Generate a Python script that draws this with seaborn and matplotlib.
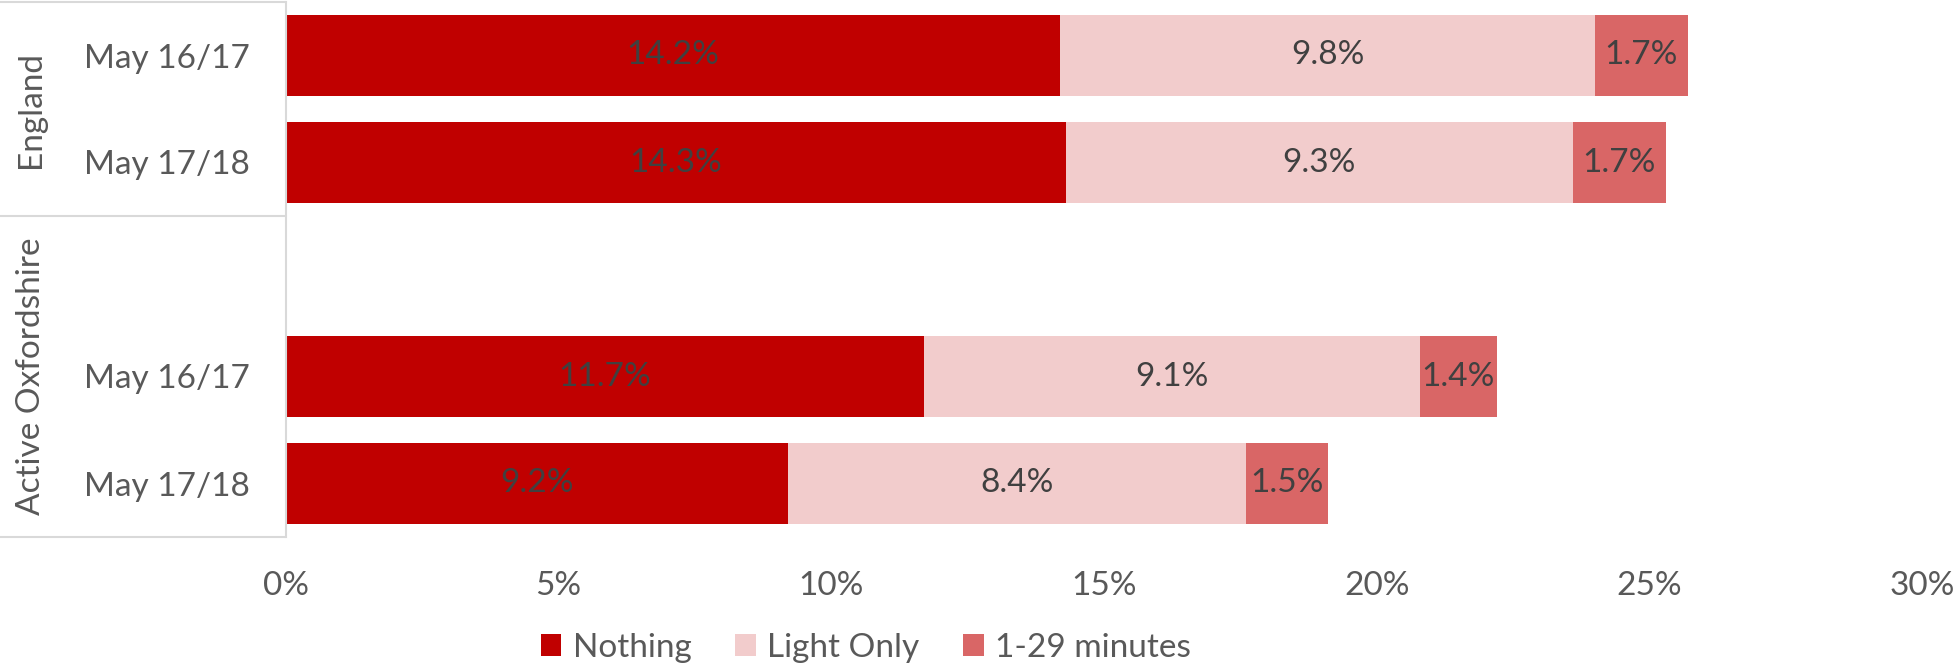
import matplotlib
matplotlib.use("Agg")
import matplotlib.pyplot as plt
import matplotlib.transforms as mtransforms
from matplotlib.patches import Patch
from matplotlib.lines import Line2D
import numpy as np
import pandas as pd
import seaborn as sns

# Category structure: two groups, the second one opens with an empty slot
groups = ["England", "Active Oxfordshire"]
row_keys = ["eng_1617", "eng_1718", "ox_blank", "ox_1617", "ox_1718"]
row_group = ["England", "England", "Active Oxfordshire", "Active Oxfordshire", "Active Oxfordshire"]
row_labels = ["May 16/17", "May 17/18", "", "May 16/17", "May 17/18"]

series = ["Nothing", "Light Only", "1-29 minutes"]
nothing = [14.2, 14.3, np.nan, 11.7, 9.2]
light_only = [9.8, 9.3, np.nan, 9.1, 8.4]
minutes_1_29 = [1.7, 1.7, np.nan, 1.4, 1.5]

x_ticks = [0, 5, 10, 15, 20, 25, 30]

colors = {"Nothing": "#C00000", "Light Only": "#F2CCCC", "1-29 minutes": "#D96666"}
label_color = "#404040"
tick_color = "#595959"
line_color = "#D9D9D9"
fs = 24

sns.set_theme(style="white")
plt.rcParams["font.family"] = ["Lato", "DejaVu Sans"]

W, H = 1960, 668
ax_left, ax_right, ax_top, ax_bottom = 286, 1922, 2, 537
fig = plt.figure(figsize=(W / 100, H / 100), dpi=100)
ax = fig.add_axes([ax_left / W, 1 - ax_bottom / H,
                   (ax_right - ax_left) / W, (ax_bottom - ax_top) / H])

df = pd.DataFrame({"row": row_keys, "Nothing": nothing,
                   "Light Only": light_only, "1-29 minutes": minutes_1_29})
df = df.dropna()
df["c1"] = df["Nothing"]
df["c2"] = df["c1"] + df["Light Only"]
df["c3"] = df["c2"] + df["1-29 minutes"]

# Stacked bars: draw cumulative totals from the outermost segment inward
for col, name in [("c3", "1-29 minutes"), ("c2", "Light Only"), ("c1", "Nothing")]:
    sns.barplot(data=df, x=col, y="row", order=row_keys, orient="h",
                color=colors[name], saturation=1, width=0.76,
                linewidth=0, errorbar=None, ax=ax)

# Segment value labels
for _, r in df.iterrows():
    yi = row_keys.index(r["row"])
    starts = [0, r["c1"], r["c2"]]
    for s, name in zip(starts, series):
        v = r[name]
        ax.text(s + v / 2, yi, f"{v:.1f}%", ha="center", va="center",
                fontsize=fs, color=label_color)

ax.set_xlim(0, 30)
ax.set_ylim(4.5, -0.5)
ax.set_xticks(x_ticks)
ax.set_xticklabels([f"{t}%" for t in x_ticks], fontsize=fs, color=tick_color)
ax.tick_params(axis="x", length=0, pad=34 * 0.72)
ax.set_yticks(range(len(row_keys)))
ax.set_yticklabels(row_labels, fontsize=fs, color=tick_color)
ax.tick_params(axis="y", length=0, pad=(ax_left - 250) * 0.72)
ax.set_xlabel("")
ax.set_ylabel("")
for side in ["top", "right", "bottom"]:
    ax.spines[side].set_visible(False)
ax.spines["left"].set_color(line_color)
ax.spines["left"].set_linewidth(1.5)

# Multi-level category axis: group dividers and rotated group names
trans = mtransforms.blended_transform_factory(fig.transFigure, ax.transData)
for yb in [-0.5, 1.5, 4.5]:
    fig.add_artist(Line2D([0, ax_left / W], [yb, yb], transform=trans,
                          color=line_color, linewidth=1.5, clip_on=False))
group_spans = {}
for i, g in enumerate(row_group):
    group_spans.setdefault(g, []).append(i)
for g in groups:
    idx = group_spans[g]
    yc = (min(idx) + max(idx)) / 2
    fig.text(31 / W, yc, g, transform=trans, rotation=90, ha="center",
             va="center", fontsize=fs, color=tick_color)

handles = [Patch(facecolor=colors[s], edgecolor="none", label=s) for s in series]
fig.legend(handles=handles, loc="center", bbox_to_anchor=(866 / W, 1 - 648 / H),
           ncol=3, frameon=False, fontsize=fs, labelcolor=tick_color,
           handlelength=0.62, handleheight=0.62, handletextpad=0.35,
           columnspacing=1.3)

fig.savefig("out.png", dpi=100, facecolor="white")
